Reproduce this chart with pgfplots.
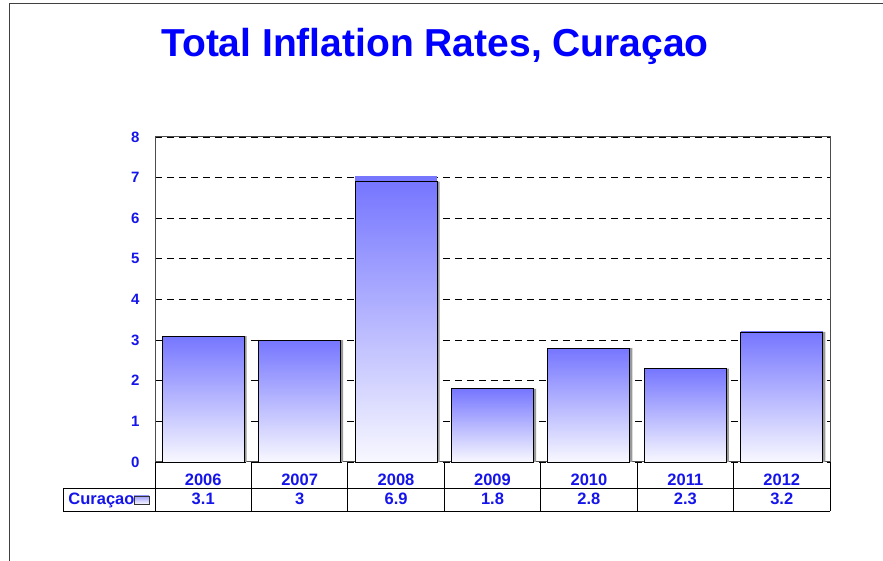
\documentclass[border=0pt]{standalone}
\usepackage{pgfplots}
\pgfplotsset{compat=1.18}
\usepackage{fontspec}
\setmainfont{Liberation Sans}
\definecolor{titleblue}{RGB}{0,0,255}
\definecolor{textblue}{RGB}{20,20,235}
\definecolor{bartop}{RGB}{118,118,255}
\definecolor{barbot}{RGB}{248,248,255}
\tikzset{tbl/.style={anchor=base, inner sep=0pt, font=\fontsize{16.5}{16.5}\selectfont\bfseries, text=textblue}}
\pgfplotsset{mybar/.style={ybar, bar width=82pt, bar shift=0pt, draw=black, line width=0.9pt, top color=bartop, bottom color=barbot}}
\begin{document}
\begin{tikzpicture}
\useasboundingbox (0pt,0pt) rectangle (883pt,561pt);
\draw[black!75, line width=1.3pt] (9.5pt,0pt) -- (9.5pt,557.5pt) -- (883pt,557.5pt);
\node[anchor=base, font=\fontsize{39}{40}\selectfont\bfseries, text=titleblue] at (435pt,504pt) {Total Inflation Rates, Curaçao};
\begin{axis}[at={(155pt,99pt)}, anchor=south west, scale only axis,
  width=675pt, height=325pt,
  xmin=-0.5, xmax=6.5, ymin=0, ymax=8,
  ytick={0,1,...,8}, xtick=\empty,
  ymajorgrids,
  grid style={black, dash pattern=on 7pt off 5pt, line width=0.8pt},
  axis line style={black!70, line width=1pt},
  major tick style={draw=none},
  yticklabel style={font=\fontsize{15}{15}\selectfont\bfseries, text=textblue, xshift=-12pt},
  /pgf/number format/assume math mode=true,
  clip=false]
% shadows
\addplot[ybar, bar width=82pt, bar shift=2.5pt, fill=black!40, draw=none] coordinates {(0,3.1) (1,3) (2,6.9) (3,1.8) (4,2.8) (5,2.3) (6,3.2)};
\addplot[ybar, bar width=82pt, bar shift=0pt, fill=bartop, draw=none] coordinates {(2,7.03)};
% bars, one plot each so each bar gets its own gradient
\addplot[mybar] coordinates {(0,3.1)};
\addplot[mybar] coordinates {(1,3)};
\addplot[mybar] coordinates {(2,6.9)};
\addplot[mybar] coordinates {(3,1.8)};
\addplot[mybar] coordinates {(4,2.8)};
\addplot[mybar] coordinates {(5,2.3)};
\addplot[mybar] coordinates {(6,3.2)};
% data table below the axis
\draw[black, line width=0.9pt] (axis cs:-0.5,0) -- (axis cs:-0.5,-1.206);
\draw[black, line width=0.9pt] (axis cs:-1.454,-0.64) -- (axis cs:6.5,-0.64);
\draw[black, line width=0.9pt] (axis cs:-1.454,-1.206) -- (axis cs:6.5,-1.206);
\draw[black, line width=0.9pt] (axis cs:-1.454,-0.64) -- (axis cs:-1.454,-1.206);
\draw[black, line width=0.9pt] (axis cs:0.5,0) -- (axis cs:0.5,-1.206);
\draw[black, line width=0.9pt] (axis cs:1.5,0) -- (axis cs:1.5,-1.206);
\draw[black, line width=0.9pt] (axis cs:2.5,0) -- (axis cs:2.5,-1.206);
\draw[black, line width=0.9pt] (axis cs:3.5,0) -- (axis cs:3.5,-1.206);
\draw[black, line width=0.9pt] (axis cs:4.5,0) -- (axis cs:4.5,-1.206);
\draw[black, line width=0.9pt] (axis cs:5.5,0) -- (axis cs:5.5,-1.206);
\draw[black, line width=0.9pt] (axis cs:6.5,0) -- (axis cs:6.5,-1.206);
\node[tbl] at (axis cs:0,-0.59) {2006};
\node[tbl] at (axis cs:1,-0.59) {2007};
\node[tbl] at (axis cs:2,-0.59) {2008};
\node[tbl] at (axis cs:3,-0.59) {2009};
\node[tbl] at (axis cs:4,-0.59) {2010};
\node[tbl] at (axis cs:5,-0.59) {2011};
\node[tbl] at (axis cs:6,-0.59) {2012};
\node[tbl] at (axis cs:0,-1.058) {3.1};
\node[tbl] at (axis cs:1,-1.058) {3};
\node[tbl] at (axis cs:2,-1.058) {6.9};
\node[tbl] at (axis cs:3,-1.058) {1.8};
\node[tbl] at (axis cs:4,-1.058) {2.8};
\node[tbl] at (axis cs:5,-1.058) {2.3};
\node[tbl] at (axis cs:6,-1.058) {3.2};
\node[tbl, anchor=base west] at (axis cs:-1.40,-1.058) {Curaçao};
\draw[black!80, line width=0.8pt, top color=bartop!70, bottom color=barbot] (axis cs:-0.718,-0.837) rectangle (axis cs:-0.562,-1.034);
\end{axis}
\end{tikzpicture}
\end{document}
